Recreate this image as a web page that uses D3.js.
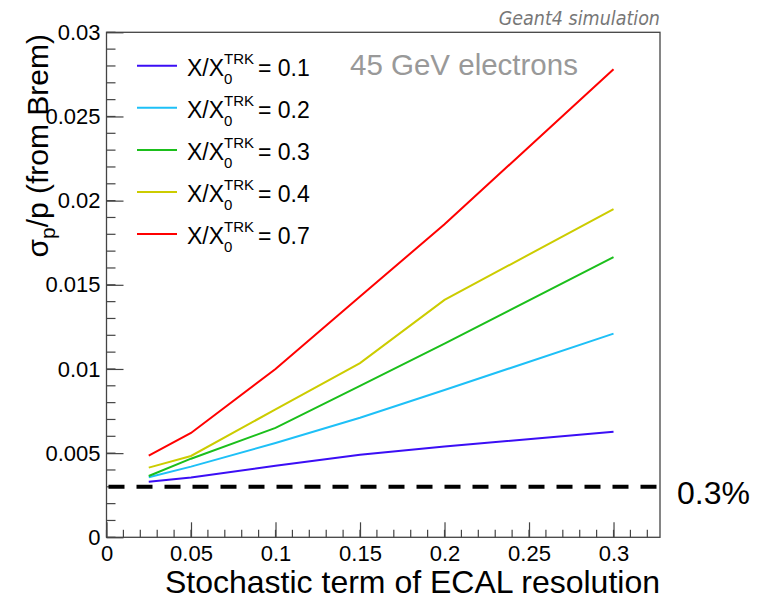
<!DOCTYPE html>
<html>
<head>
<meta charset="utf-8">
<script src="https://cdn.jsdelivr.net/npm/d3@7"></script>
<style>
  body { margin: 0; background: #fff; }
  text { font-family: "Liberation Sans", Arial, sans-serif; }
</style>
</head>
<body>
<div id="chart"></div>
<script>
// stochastic term values (x)
const stochTerms = [0.025, 0.05, 0.1, 0.15, 0.2, 0.3];

// tracker material labels and sigma_p/p values
const materials = ["0.1", "0.2", "0.3", "0.4", "0.7"];
const res01 = [0.0033, 0.00355, 0.00425, 0.0049, 0.0054, 0.00627];
const res02 = [0.00357, 0.0042, 0.0056, 0.0071, 0.00875, 0.0121];
const res03 = [0.00364, 0.00467, 0.0065, 0.009, 0.0115, 0.01665];
const res04 = [0.00414, 0.00483, 0.0076, 0.01035, 0.0141, 0.0195];
const res07 = [0.00485, 0.0062, 0.01, 0.0143, 0.0186, 0.0278];
const seriesColors = ["#3b0ef5", "#1ec0f7", "#1bbf1b", "#cccc00", "#ff0000"];

const limitValue = 0.003;
const xTicks = [0, 0.05, 0.1, 0.15, 0.2, 0.25, 0.3];
const yTicks = [0, 0.005, 0.01, 0.015, 0.02, 0.025, 0.03];

const width = 768, height = 602;
const margin = { top: 32.3, right: 108, bottom: 64.7, left: 106.5 };
const iw = width - margin.left - margin.right;
const ih = height - margin.top - margin.bottom;

const svg = d3.select("#chart").append("svg")
  .attr("width", width).attr("height", height);

const g = svg.append("g")
  .attr("transform", `translate(${margin.left},${margin.top})`);

const x = d3.scaleLinear().domain([0, 0.3275]).range([0, iw]);
const y = d3.scaleLinear().domain([0, 0.03]).range([ih, 0]);

// frame
g.append("rect")
  .attr("width", iw).attr("height", ih)
  .attr("fill", "none").attr("stroke", "#444").attr("stroke-width", 1.3);

// minor ticks
const xMinor = d3.range(0, 0.3275, 0.01).map(v => +v.toFixed(3));
g.selectAll(".xminor").data(xMinor).enter().append("line")
  .attr("x1", d => x(d)).attr("x2", d => x(d))
  .attr("y1", ih).attr("y2", ih - 7.5)
  .attr("stroke", "#444").attr("stroke-width", 1.2);
const yMinor = d3.range(0, 0.0301, 0.001).map(v => +v.toFixed(4));
g.selectAll(".yminor").data(yMinor).enter().append("line")
  .attr("x1", 0).attr("x2", 9)
  .attr("y1", d => y(d)).attr("y2", d => y(d))
  .attr("stroke", "#444").attr("stroke-width", 1.2);

// axes with major ticks pointing inward
const fmt = d => d === 0 ? "0" : String(+d.toFixed(3));
const xAxis = g.append("g")
  .attr("transform", `translate(0,${ih})`)
  .call(d3.axisBottom(x).tickValues(xTicks).tickFormat(fmt).tickSizeInner(-15).tickSizeOuter(0).tickPadding(0));
const yAxis = g.append("g")
  .call(d3.axisLeft(y).tickValues(yTicks).tickFormat(fmt).tickSizeInner(-17).tickSizeOuter(0).tickPadding(6));
[xAxis, yAxis].forEach(a => {
  a.select(".domain").remove();
  a.selectAll("line").attr("stroke", "#444").attr("stroke-width", 1.2);
  a.selectAll("text").attr("fill", "#000")
    .style("font-family", "'Liberation Sans', Arial, sans-serif")
    .style("font-size", "22px");
});
xAxis.selectAll("text").attr("y", 24).attr("dy", 0);

// dashed 0.3% line
g.append("line")
  .attr("x1", x(0)).attr("x2", iw)
  .attr("y1", y(limitValue)).attr("y2", y(limitValue))
  .attr("stroke", "#000").attr("stroke-width", 4)
  .attr("stroke-dasharray", "16,12").attr("stroke-dashoffset", -2);

// series
const allSeries = [res01, res02, res03, res04, res07];
const line = d3.line().x((d, i) => x(stochTerms[i])).y(d => y(d));
allSeries.forEach((s, k) => {
  g.append("path").datum(s)
    .attr("fill", "none")
    .attr("stroke", seriesColors[k])
    .attr("stroke-width", 2)
    .attr("d", line);
});

// legend
const leg = svg.append("g");
materials.forEach((m, k) => {
  const by = 76 + k * 42.1;
  leg.append("line")
    .attr("x1", 137).attr("x2", 177)
    .attr("y1", by - 10.3).attr("y2", by - 10.3)
    .attr("stroke", seriesColors[k]).attr("stroke-width", 2);
  const t1 = leg.append("text").attr("x", 187).attr("y", by)
    .style("font-size", "23px").text("X/X");
  const w = t1.node().getComputedTextLength();
  leg.append("text").attr("x", 187 + w).attr("y", by - 12)
    .style("font-size", "15px").text("TRK");
  leg.append("text").attr("x", 187 + w).attr("y", by + 8)
    .style("font-size", "15px").text("0");
  leg.append("text").attr("x", 258).attr("y", by)
    .style("font-size", "23px").text("= " + m);
});

// annotations
svg.append("text")
  .attr("x", 350).attr("y", 75)
  .attr("fill", "#999").style("font-size", "29.5px")
  .text("45 GeV electrons");

svg.append("text")
  .attr("x", 660).attr("y", 25)
  .attr("text-anchor", "end")
  .attr("fill", "#777")
  .style("font-family", "'DejaVu Sans Condensed', 'DejaVu Sans', sans-serif")
  .style("font-style", "italic")
  .style("font-size", "19.5px")
  .text("Geant4 simulation");

svg.append("text")
  .attr("x", 677).attr("y", 504)
  .style("font-size", "32px")
  .text("0.3%");

// axis titles
svg.append("text")
  .attr("x", 660).attr("y", 593)
  .attr("text-anchor", "end")
  .style("font-size", "32px")
  .text("Stochastic term of ECAL resolution");

const yt = svg.append("text")
  .attr("transform", "translate(48,34) rotate(-90)")
  .attr("text-anchor", "end")
  .style("font-size", "30px");
yt.append("tspan").text("σ");
yt.append("tspan").attr("dy", 7).style("font-size", "21px").text("p");
yt.append("tspan").attr("dy", -7).text("/p (from Brem)");
</script>
</body>
</html>
